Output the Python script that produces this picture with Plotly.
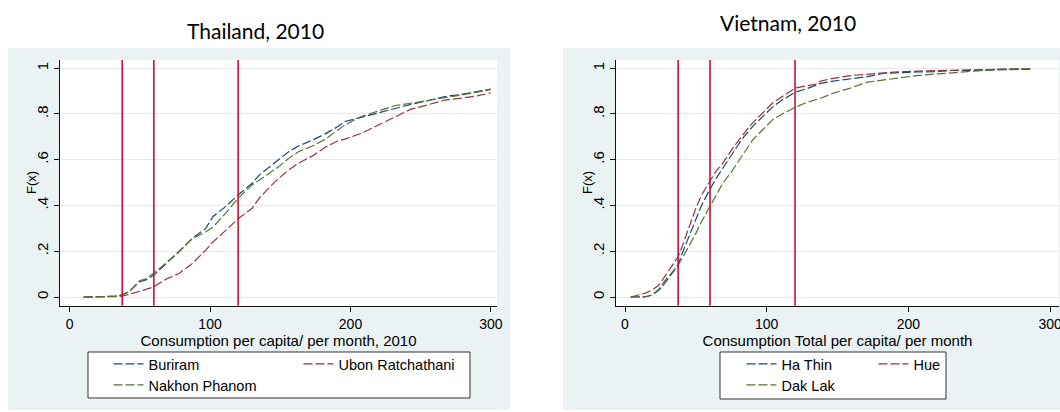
import plotly.graph_objects as go

# ---------------- data ----------------
thai_x = [10, 20, 28, 32, 37.5, 42.5, 50, 54, 60, 69, 78, 87.5, 97, 102, 111, 120,
          130, 135, 144, 149, 156, 163, 173, 182, 191, 196, 208, 220, 232, 243,
          255, 267, 279, 291, 300]
buriram = [0.0, 0.0, 0.0, 0.003, 0.01, 0.023, 0.067, 0.074, 0.096, 0.147, 0.198, 0.257,
           0.30, 0.351, 0.395, 0.446, 0.497, 0.533, 0.577, 0.599, 0.635, 0.66, 0.686,
           0.713, 0.745, 0.767, 0.786, 0.803, 0.825, 0.842, 0.858, 0.876, 0.886, 0.90, 0.909]
ubon = [0.0, 0.0, 0.0, 0.002, 0.004, 0.012, 0.025, 0.032, 0.045, 0.079, 0.103, 0.147,
        0.205, 0.24, 0.29, 0.342, 0.388, 0.432, 0.49, 0.519, 0.555, 0.585, 0.617,
        0.655, 0.682, 0.69, 0.716, 0.752, 0.788, 0.821, 0.84, 0.861, 0.869, 0.88, 0.893]
nakhon = [0.0, 0.0, 0.0, 0.003, 0.01, 0.025, 0.072, 0.078, 0.105, 0.15, 0.2, 0.255,
          0.285, 0.305, 0.365, 0.432, 0.49, 0.512, 0.55, 0.57, 0.606, 0.635, 0.66,
          0.69, 0.73, 0.752, 0.79, 0.815, 0.837, 0.847, 0.858, 0.871, 0.883, 0.897, 0.907]

viet_x = [4, 14, 19, 24, 28, 33, 37.5, 40, 45, 50, 54, 59, 64, 69, 76, 83, 90, 97, 104,
          111, 120, 128, 135, 138, 147, 159, 171, 183, 194, 206, 218, 230, 242, 253,
          265, 277, 286]
ha_thin = [0.0, 0.001, 0.008, 0.03, 0.06, 0.103, 0.14, 0.185, 0.26, 0.335, 0.40, 0.46,
           0.515, 0.563, 0.628, 0.694, 0.745, 0.788, 0.83, 0.861, 0.895, 0.91, 0.925,
           0.934, 0.944, 0.952, 0.963, 0.978, 0.982, 0.984, 0.985, 0.99, 0.99, 0.992,
           0.993, 0.995, 0.996]
hue = [0.0, 0.016, 0.03, 0.052, 0.089, 0.133, 0.176, 0.215, 0.30, 0.388, 0.445, 0.497,
       0.548, 0.585, 0.65, 0.708, 0.76, 0.803, 0.847, 0.876, 0.913, 0.923, 0.931,
       0.944, 0.956, 0.968, 0.974, 0.982, 0.985, 0.987, 0.99, 0.991, 0.993, 0.994,
       0.995, 0.997, 0.998]
dak_lak = [0.0, 0.001, 0.008, 0.035, 0.07, 0.108, 0.14, 0.165, 0.22, 0.278, 0.33, 0.385,
           0.446, 0.497, 0.555, 0.621, 0.686, 0.73, 0.774, 0.80, 0.829, 0.85, 0.864,
           0.869, 0.891, 0.913, 0.939, 0.949, 0.959, 0.968, 0.974, 0.98, 0.985, 0.99,
           0.996, 0.997, 0.998]

poverty_lines = [37.5, 60, 120]
x_tickvals = [0, 100, 200, 300]
y_tickvals = [0, 0.2, 0.4, 0.6, 0.8, 1]
y_ticktext = ["0", ".2", ".4", ".6", ".8", "1"]

# ---------------- styling ----------------
W, H = 1060, 412
NAVY, MAROON, GREEN = "#1A476F", "#90353B", "#55752F"
VLINE = "#C8103A"
PANEL_BG = "#EAF2F3"
GRID = "#E2EBEE"
DASH = "9px,3px"
AX_FONT = "Liberation Sans, Arial, sans-serif"


def fx(p):
    return p / W


def fy(p):
    return 1 - p / H


fig = go.Figure()

series = [
    (thai_x, buriram, "Buriram", NAVY, "x", "y", "legend"),
    (thai_x, ubon, "Ubon Ratchathani", MAROON, "x", "y", "legend"),
    (thai_x, nakhon, "Nakhon Phanom", GREEN, "x", "y", "legend2"),
    (viet_x, ha_thin, "Ha Thin", NAVY, "x2", "y2", "legend3"),
    (viet_x, hue, "Hue", MAROON, "x2", "y2", "legend3"),
    (viet_x, dak_lak, "Dak Lak", GREEN, "x2", "y2", "legend4"),
]
for xs, ys, name, col, xa, ya, lg in series:
    fig.add_trace(go.Scatter(
        x=xs, y=ys, name=name, mode="lines", xaxis=xa, yaxis=ya, legend=lg,
        line=dict(color=col, width=1.2, dash=DASH), hoverinfo="skip"))

shapes = []
# panel backgrounds
shapes.append(dict(type="rect", xref="paper", yref="paper", x0=fx(8), x1=fx(510),
                   y0=fy(410), y1=fy(48), fillcolor=PANEL_BG, line_width=0, layer="below"))
shapes.append(dict(type="rect", xref="paper", yref="paper", x0=fx(563), x1=fx(1062),
                   y0=fy(410), y1=fy(48), fillcolor=PANEL_BG, line_width=0, layer="below"))
# white plot regions
for xa, ya in [("x", "y"), ("x2", "y2")]:
    shapes.append(dict(type="rect", xref=xa + " domain", yref=ya + " domain",
                       x0=0, x1=1, y0=0, y1=1, fillcolor="white", line_width=0,
                       layer="below"))
# legend boxes
shapes.append(dict(type="rect", xref="paper", yref="paper", x0=fx(88), x1=fx(470),
                   y0=fy(398), y1=fy(352), fillcolor="white",
                   line=dict(color="#333333", width=1), layer="below"))
shapes.append(dict(type="rect", xref="paper", yref="paper", x0=fx(720), x1=fx(946),
                   y0=fy(399), y1=fy(352), fillcolor="white",
                   line=dict(color="#333333", width=1), layer="below"))
# poverty lines
for xa, ya in [("x", "y"), ("x2", "y2")]:
    for v in poverty_lines:
        shapes.append(dict(type="line", xref=xa, yref=ya + " domain", x0=v, x1=v,
                           y0=0, y1=1, line=dict(color=VLINE, width=1.6),
                           layer="above"))

ydom = [fy(305.7), fy(60)]
common_x = dict(showline=True, linecolor="#111111", linewidth=1, ticks="outside",
                ticklen=5, tickcolor="#111111", tickvals=x_tickvals, showgrid=False,
                zeroline=False, tickfont=dict(family=AX_FONT, size=14, color="black"),
                ticklabeloverflow="allow", automargin=False)
common_y = dict(showline=True, linecolor="#111111", linewidth=1, ticks="outside",
                ticklen=5, tickcolor="#111111", tickvals=y_tickvals,
                ticktext=y_ticktext, tickangle=-90, showgrid=True, gridcolor=GRID,
                gridwidth=1, zeroline=False, domain=ydom, range=[-0.038, 1.036],
                tickfont=dict(family=AX_FONT, size=15, color="black"),
                automargin=False)

title_font = dict(family="Lato, sans-serif", size=21, color="black")
ylab_font = dict(family=AX_FONT, size=13, color="black")

fig.update_layout(
    width=W, height=H, margin=dict(l=0, r=0, t=0, b=0),
    paper_bgcolor="white", plot_bgcolor="white",
    shapes=shapes,
    xaxis=dict(common_x, domain=[fx(60), fx(497)], range=[-6.8, 304.3], anchor="y",
               title=dict(text="Consumption per capita/ per month, 2010", standoff=0,
                          font=dict(family=AX_FONT, size=15, color="black"))),
    yaxis=dict(common_y, anchor="x"),
    xaxis2=dict(common_x, domain=[fx(616), fx(1059)], range=[-6.35, 306.3], anchor="y2",
                title=dict(text="Consumption Total per capita/ per month", standoff=0,
                           font=dict(family=AX_FONT, size=15, color="black"))),
    yaxis2=dict(common_y, anchor="x2"),
    annotations=[
        dict(text="Thailand, 2010", xref="paper", yref="paper", x=fx(255), y=fy(31),
             xanchor="center", yanchor="middle", showarrow=False, font=title_font),
        dict(text="Vietnam, 2010", xref="paper", yref="paper", x=fx(788), y=fy(22.5),
             xanchor="center", yanchor="middle", showarrow=False, font=title_font),
        dict(text="F(x)", xref="paper", yref="paper", x=fx(31), y=fy(183),
             xanchor="center", yanchor="middle", showarrow=False, textangle=-90,
             font=ylab_font),
        dict(text="F(x)", xref="paper", yref="paper", x=fx(587), y=fy(183),
             xanchor="center", yanchor="middle", showarrow=False, textangle=-90,
             font=ylab_font),
    ],
)

leg_common = dict(orientation="h", bgcolor="rgba(0,0,0,0)", borderwidth=0,
                  xanchor="left", yanchor="middle", traceorder="normal",
                  font=dict(family=AX_FONT, size=14.5, color="black"),
                  itemclick=False, itemdoubleclick=False)
fig.update_layout(
    legend=dict(leg_common, x=fx(108.5), y=fy(364), entrywidth=145),
    legend2=dict(leg_common, x=fx(108.5), y=fy(385), entrywidth=145),
    legend3=dict(leg_common, x=fx(741.5), y=fy(364), entrywidth=87),
    legend4=dict(leg_common, x=fx(741.5), y=fy(385), entrywidth=87),
)

fig.write_html("out.html", config={"displayModeBar": False},
               post_script="document.body.style.margin='0';"
                           "document.body.style.overflow='hidden';")
